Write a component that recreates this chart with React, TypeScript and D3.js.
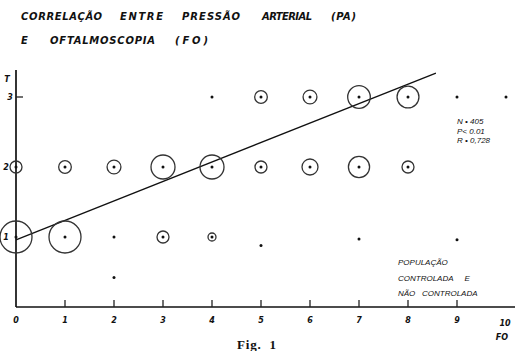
import React from "react";
import * as d3 from "d3";

// Data: FO grade (x), T grade (y), frequency n (circle size); n = 0 → only a dot
const foValues = [0, 1, 2, 3, 4, 5, 6, 7, 8, 9, 10,
  0, 1, 2, 3, 4, 5, 6, 7, 8,
  0, 1, 2, 3, 4, 5, 7, 9,
  2];
const tValues = [3, 3, 3, 3, 3, 3, 3, 3, 3, 3, 3,
  2, 2, 2, 2, 2, 2, 2, 2, 2,
  1, 1, 1, 1, 1, 0.88, 0.97, 0.96,
  0.42];
const counts = [-1, -1, -1, -1, 0, 10, 12, 32, 30, 0, 0,
  9, 10, 12, 36, 36, 9, 16, 28, 9,
  64, 64, 0, 9, 4, 0, 0, 0,
  0];
const xTicks = [0, 1, 2, 3, 4, 5, 6, 7, 8, 9, 10];
const yTicks = [1, 2, 3];
const regression = { intercept: 0.96, slope: 0.278, xEnd: 8.57 };
const titleLine1 = ["CORRELAÇÃO", "ENTRE", "PRESSÃO", "ARTERIAL", "(PA)"];
const titleLine2 = ["E", "OFTALMOSCOPIA", "(FO)"];
const stats = ["N • 405", "P< 0.01", "R • 0,728"];
const legend = ["POPULAÇÃO", "CONTROLADA     E", "NÃO   CONTROLADA"];

export default function App() {
  const W = 522, H = 351;
  const x = d3.scaleLinear().domain([0, 10]).range([16, 506]);
  const y = d3.scaleLinear().domain([0, 3]).range([307, 97]);
  const r = d3.scaleSqrt().domain([0, 64]).range([0, 16]);
  const font = "'DejaVu Sans', 'Liberation Sans', sans-serif";
  const t1x = [21, 120, 182, 262, 331];
  const t1w = [81, 43, 58, 50, 25];
  const t2x = [21, 50, 175];
  const t2w = [7, 105, 33];
  const points = foValues.map((f, i) => ({ f, t: tValues[i], n: counts[i] })).filter(p => p.n >= 0);
  const line = d3.line<number>().x(v => x(v)).y(v => y(regression.intercept + regression.slope * v));
  return (
    <svg width={W} height={H} style={{ position: "absolute", left: 0, top: 0, background: "#fff" }}>
      <g fontFamily={font} fontStyle="italic" fontWeight="bold" fontSize={10} fill="#111">
        {titleLine1.map((w, i) => (
          <text key={"a" + i} x={t1x[i]} y={20} textLength={t1w[i]} lengthAdjust="spacing">{w}</text>
        ))}
        {titleLine2.map((w, i) => (
          <text key={"b" + i} x={t2x[i]} y={44} textLength={w.length > 1 ? t2w[i] : undefined} lengthAdjust="spacing">{w}</text>
        ))}
      </g>
      {/* axes */}
      <line x1={x(0)} x2={x(0)} y1={70} y2={y(0)} stroke="#111" strokeWidth={1.7} />
      <line x1={x(0)} x2={515} y1={y(0)} y2={y(0)} stroke="#111" strokeWidth={1.7} />
      {xTicks.filter(t => t > 0 && t < 10).map(t => (
        <line key={"xt" + t} x1={x(t)} x2={x(t)} y1={y(0) - 7} y2={y(0)} stroke="#222" strokeWidth={1.3} />
      ))}
      <line x1={x(0)} x2={x(0) + 7} y1={y(3)} y2={y(3)} stroke="#222" strokeWidth={1.3} />
      <g fontFamily={font} fontStyle="italic" fontWeight="bold" fontSize={8} fill="#111" textAnchor="middle">
        {xTicks.map(t => (
          <text key={"xl" + t} x={x(t) - (t === 10 ? 1 : 0)} y={t === 10 ? 326 : 323}>{t}</text>
        ))}
        <text x={502} y={340}>FO</text>
        {yTicks.map(t => (
          <text key={"yl" + t} x={t === 3 ? 10 : 6} y={y(t) + 3}>{t}</text>
        ))}
        <text x={7} y={82}>T</text>
      </g>
      {/* regression */}
      <path d={line([0, regression.xEnd]) || ""} fill="none" stroke="#111" strokeWidth={1.3} />
      {/* points */}
      {points.map((p, i) => (
        <g key={"p" + i}>
          {p.n > 0 && <circle cx={x(p.f)} cy={y(p.t)} r={r(p.n)} fill="none" stroke="#333" strokeWidth={1.3} />}
          <circle cx={x(p.f)} cy={y(p.t)} r={1.5} fill="#111" />
        </g>
      ))}
      <g fontFamily="'Liberation Sans', Arial, sans-serif" fontStyle="italic" fontSize={8} fill="#111">
        {stats.map((s, i) => (
          <text key={"s" + i} x={457} y={124 + i * 9.5}>{s}</text>
        ))}
        {legend.map((s, i) => (
          <text key={"l" + i} x={398} y={265 + i * 15.5} style={{ whiteSpace: "pre" }}>{s}</text>
        ))}
      </g>
      <text x={237} y={349} fontFamily="'Liberation Serif', serif" fontWeight="bold" fontSize={13} letterSpacing={0.8} fill="#111" style={{ whiteSpace: "pre" }}>Fig.  1</text>
    </svg>
  );
}
